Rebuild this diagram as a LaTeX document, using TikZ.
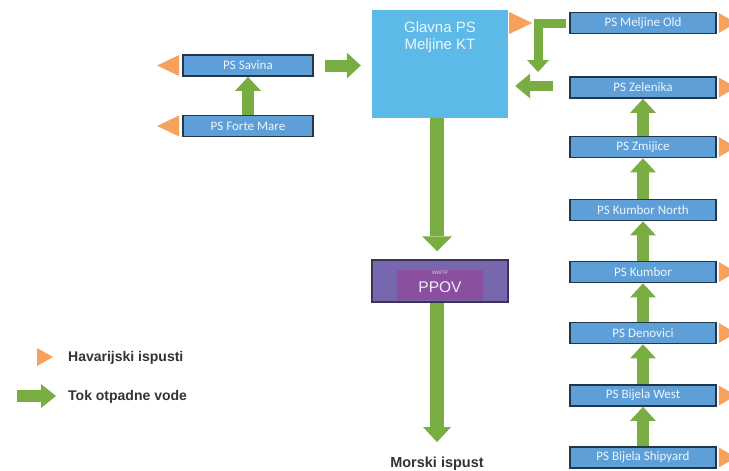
\documentclass[tikz,border=0pt]{standalone}
\usepackage{fontspec}
\setmainfont{Liberation Sans}
\newfontfamily\carl{Carlito}
\usetikzlibrary{arrows.meta}
\definecolor{boxblue}{HTML}{5E9FD8}
\definecolor{boxedge}{HTML}{23364A}
\definecolor{mainblue}{HTML}{5DB9E8}
\definecolor{flowgreen}{HTML}{79AD42}
\definecolor{spill}{HTML}{F6A25C}
\definecolor{ppovout}{HTML}{7667AE}
\definecolor{ppovin}{HTML}{8B4FA0}
\definecolor{ppovedge}{HTML}{3B3453}
\definecolor{legtext}{HTML}{333333}
\begin{document}
\begin{tikzpicture}[x=1pt,y=-1pt,
  ps/.style={draw=boxedge, line width=1.8pt, fill=boxblue, minimum width=146pt, minimum height=21pt, inner sep=0pt, font=\carl\fontsize{13}{14}\selectfont, text=white!90!boxblue},
  psl/.style={ps, minimum width=130pt},
  flow/.style={draw=flowgreen, line width=12pt, -{Triangle[width=26pt,length=14pt,line width=0pt]}},
  legtxt/.style={anchor=west, font=\bfseries\fontsize{14}{16}\selectfont, text=legtext, inner sep=0pt}
]
\useasboundingbox (0,0) rectangle (729,471);
\clip (0,0) rectangle (729,471);
\fill[white] (0,0) rectangle (729,471);

% main station
\node[draw=none, fill=mainblue, minimum width=136pt, minimum height=108pt, inner sep=0pt] (main) at (440,64) {};
\node[align=center, font=\fontsize{15}{17}\selectfont, text=white!88!mainblue, anchor=north, inner sep=0pt] (mainlbl) at (440,21) {Glavna PS\\Meljine KT};

% left stations
\node[psl] (savina) at (248,65.5) {PS Savina};
\node[psl] (forte) at (248,126) {PS Forte Mare};

% right column
\node[ps] (meljine) at (643,23) {PS Meljine Old};
\node[ps] (zelenika) at (643,87.5) {PS Zelenika};
\node[ps] (zmijice) at (643,147) {PS Zmijice};
\node[ps] (kn) at (643,210) {PS Kumbor North};
\node[ps] (kumbor) at (643,272) {PS Kumbor};
\node[ps] (denovici) at (643,333) {PS Denovici};
\node[ps] (bwest) at (643,395.5) {PS Bijela West};
\node[ps] (bship) at (643,457.5) {PS Bijela Shipyard};

% PPOV
\node[draw=ppovedge, line width=1.5pt, fill=ppovout, minimum width=136pt, minimum height=42pt, inner sep=0pt] (ppov) at (440,281) {};
\node[fill=ppovin, minimum width=86pt, minimum height=30pt, inner sep=0pt] (ppovin) at (440,285) {};
\node[font=\fontsize{15.5}{16}\selectfont, text=white!90!ppovin, inner sep=0pt] (ppovlbl) at (440,287) {PPOV};
\node[font=\fontsize{5}{6}\selectfont, text=white!75!ppovout, inner sep=0pt] (wwtp) at (440,272.5) {WWTP};

\node[font=\bfseries\fontsize{14.5}{16}\selectfont, text=legtext, inner sep=0pt] (morski) at (437,464) {Morski ispust};

% spill triangles (right)
\foreach \n in {meljine,zelenika,zmijice,kumbor,denovici,bwest,bship}{
  \fill[spill] ([xshift=2pt,yshift=10pt]\n.east) -- ([xshift=2pt,yshift=-10pt]\n.east) -- ([xshift=19pt]\n.east) -- cycle;
}
\fill[spill] ([xshift=1pt]main.north east |- 0,12) -- ([xshift=1pt]main.north east |- 0,34) -- ([xshift=24pt]main.north east |- 0,23) -- cycle;
\foreach \n in {savina,forte}{
  \fill[spill] ([xshift=-3pt,yshift=10.5pt]\n.west) -- ([xshift=-3pt,yshift=-10.5pt]\n.west) -- ([xshift=-25pt]\n.west) -- cycle;
}

% flows
\draw[flow] (forte.north) -- (savina.south);
\draw[flow, shorten <=11pt, shorten >=11pt] (savina.east) -- (savina.east -| main.west);
\draw[flow, line width=14pt, -{Triangle[width=30pt,length=15pt,line width=0pt]}, shorten >=8pt] (main.south -| morski.north) -- (ppov.north -| morski.north);
\draw[flow, line width=14pt, -{Triangle[width=28pt,length=15pt,line width=0pt]}, shorten >=15pt] (ppov.south -| morski.north) -- (morski.north);
\draw[flow] (bship.north) -- (bwest.south);
\draw[flow] (bwest.north) -- (denovici.south);
\draw[flow] (denovici.north) -- (kumbor.south);
\draw[flow] (kumbor.north) -- (kn.south);
\draw[flow] (kn.north) -- (zmijice.south);
\draw[flow] (zmijice.north) -- (zelenika.south);
\coordinate (elbowtip) at (538,72);
\draw[flow, line width=9pt, -{Triangle[width=22pt,length=12pt,line width=0pt]}, shorten <=3pt] (meljine.west) -| (elbowtip);
\coordinate (lefttail) at (553,86);
\draw[flow, line width=10pt, -{Triangle[width=25pt,length=15pt,line width=0pt]}, shorten >=7pt] (lefttail) -- (lefttail -| main.east);

% legend
\fill[spill] (37,348) -- (37,366) -- (53,357) -- cycle;
\node[legtxt] (leg1) at (68,358) {Havarijski ispusti};
\coordinate (legtail) at (17,396);
\node[legtxt] (leg2) at (68,397) {Tok otpadne vode};
\draw[flow, -{Triangle[width=24pt,length=15pt,line width=0pt]}] (legtail) -- ([xshift=-12pt]leg2.west |- legtail);
\end{tikzpicture}
\end{document}
